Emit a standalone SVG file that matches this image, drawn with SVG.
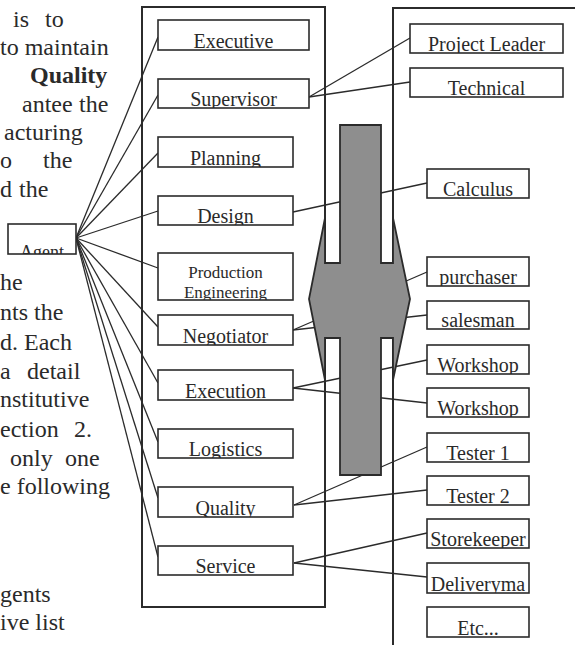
<svg xmlns="http://www.w3.org/2000/svg" width="575" height="645" viewBox="0 0 575 645">
  <style>
    .frame { fill: none; stroke: #2b2b2b; stroke-width: 2; }
    .box { fill: #fff; stroke: #2b2b2b; stroke-width: 1.6; }
    .lbl { font-family: "Liberation Serif", "Times New Roman", serif; font-size: 20px; fill: #2a2a2a; text-anchor: middle; }
    .small { font-size: 17px; }
    .body { font-family: "Liberation Serif", "Times New Roman", serif; font-size: 24px; fill: #2a2a2a; }
    .link { fill: none; stroke: #2b2b2b; stroke-width: 1.3; }
    .shaft { fill: #8e8e8e; stroke: #2b2b2b; stroke-width: 1.8; stroke-linejoin: miter; }
  </style>
  <rect width="575" height="645" fill="#fff"/>

  <!-- running text beside the figure -->
  <g id="body-text" class="body">
    <text y="27"><tspan x="13">is</tspan><tspan x="45">to</tspan></text>
    <text x="0" y="55">to maintain</text>
    <text x="30" y="83" font-weight="bold">Quality</text>
    <text y="112"><tspan x="22">antee</tspan><tspan x="79">the</tspan></text>
    <text x="4" y="140">acturing</text>
    <text y="168"><tspan x="0">o</tspan><tspan x="43">the</tspan></text>
    <text y="197"><tspan x="0">d</tspan><tspan x="19">the</tspan></text>
    <text x="0" y="290">he</text>
    <text x="0" y="320">nts the</text>
    <text x="0" y="350">d. Each</text>
    <text y="379"><tspan x="0">a</tspan><tspan x="27">detail</tspan></text>
    <text x="0" y="407">nstitutive</text>
    <text y="437"><tspan x="0">ection</tspan><tspan x="74">2.</tspan></text>
    <text y="466"><tspan x="10">only</tspan><tspan x="65">one</tspan></text>
    <text x="0" y="494">e following</text>
    <text x="0" y="602">gents</text>
    <text x="0" y="630">ive list</text>
  </g>

  <!-- enclosing frames -->
  <g id="frames">
    <rect class="frame" x="142" y="7" width="183" height="600"/>
    <path class="frame" d="M576,8 H393 V646"/>
  </g>

  <!-- connectors -->
  <g id="connectors" class="link">
    <path d="M76,238 L158,37"/>
    <path d="M76,238 L158,95"/>
    <path d="M76,238 L158,153"/>
    <path d="M76,238 L158,211"/>
    <path d="M76,238 L158,268"/>
    <path d="M76,238 L158,327"/>
    <path d="M76,238 L158,383"/>
    <path d="M76,238 L158,442"/>
    <path d="M76,238 L158,498"/>
    <path d="M76,238 L158,557"/>
    <path d="M309,97 L410,38"/>
    <path d="M309,97 L410,82"/>
    <path d="M293,212 L427,183"/>
    <path d="M293,330 L427,272"/>
    <path d="M293,330 L427,315"/>
    <path d="M293,388 L427,360"/>
    <path d="M293,388 L427,403"/>
    <path d="M294,505 L427,447"/>
    <path d="M294,505 L427,490"/>
    <path d="M294,563 L427,533"/>
    <path d="M294,563 L427,577"/>
  </g>

  <!-- grey bar with double-headed arrow across the two frames -->
  <g id="exchange-arrow">
    <path class="shaft" d="M340,125 H381 V263 H393 V218 L410,299 L393,380 V338 H381 V475 H340 V338 H325 V380 L309,299 L325,218 V263 H340 Z"/>
  </g>

  <!-- agent -->
  <g id="agent">
    <rect class="box" x="8" y="224" width="68" height="30"/>
    <svg x="8" y="224" width="68" height="30"><text class="lbl" x="34" y="33.5" style="font-size:18px">Agent</text></svg>
  </g>

  <!-- roles inside the left frame -->
  <g id="executive">
    <rect class="box" x="158" y="20" width="151" height="30"/>
    <svg x="158" y="20" width="151" height="30"><text class="lbl" x="75.5" y="27.5">Executive</text></svg>
  </g>
  <g id="supervisor">
    <rect class="box" x="158" y="79" width="151" height="29"/>
    <svg x="158" y="79" width="151" height="29"><text class="lbl" x="75.5" y="26.5">Supervisor</text></svg>
  </g>
  <g id="planning">
    <rect class="box" x="158" y="137" width="135" height="30"/>
    <svg x="158" y="137" width="135" height="30"><text class="lbl" x="67.5" y="27.5">Planning</text></svg>
  </g>
  <g id="design">
    <rect class="box" x="158" y="196" width="135" height="29"/>
    <svg x="158" y="196" width="135" height="29"><text class="lbl" x="67.5" y="26.5">Design</text></svg>
  </g>
  <g id="production-engineering">
    <rect class="box" x="158" y="253" width="135" height="47"/>
    <svg x="158" y="253" width="135" height="47">
      <text class="lbl small" x="67.5" y="25">Production</text>
      <text class="lbl small" x="67.5" y="44.5">Engineering</text>
    </svg>
  </g>
  <g id="negotiator">
    <rect class="box" x="158" y="315" width="135" height="30"/>
    <svg x="158" y="315" width="135" height="30"><text class="lbl" x="67.5" y="27.5">Negotiator</text></svg>
  </g>
  <g id="execution">
    <rect class="box" x="158" y="370" width="135" height="30"/>
    <svg x="158" y="370" width="135" height="30"><text class="lbl" x="67.5" y="27.5">Execution</text></svg>
  </g>
  <g id="logistics">
    <rect class="box" x="158" y="429" width="135" height="29"/>
    <svg x="158" y="429" width="135" height="29"><text class="lbl" x="67.5" y="26.5">Logistics</text></svg>
  </g>
  <g id="quality">
    <rect class="box" x="158" y="487" width="135" height="30"/>
    <svg x="158" y="487" width="135" height="30"><text class="lbl" x="67.5" y="27.5">Quality</text></svg>
  </g>
  <g id="service">
    <rect class="box" x="158" y="546" width="135" height="29"/>
    <svg x="158" y="546" width="135" height="29"><text class="lbl" x="67.5" y="26.5">Service</text></svg>
  </g>

  <!-- actors inside the right frame -->
  <g id="project-leader">
    <rect class="box" x="410" y="24" width="153" height="29"/>
    <svg x="410" y="24" width="153" height="29"><text class="lbl" x="76.5" y="26.5">Project Leader</text></svg>
  </g>
  <g id="technical">
    <rect class="box" x="410" y="68" width="153" height="29"/>
    <svg x="410" y="68" width="153" height="29"><text class="lbl" x="76.5" y="26.5">Technical</text></svg>
  </g>
  <g id="calculus">
    <rect class="box" x="427" y="169" width="102" height="29"/>
    <svg x="427" y="169" width="102" height="29"><text class="lbl" x="51" y="26.5">Calculus</text></svg>
  </g>
  <g id="purchaser">
    <rect class="box" x="427" y="257" width="102" height="29"/>
    <svg x="427" y="257" width="102" height="29"><text class="lbl" x="51" y="26.5">purchaser</text></svg>
  </g>
  <g id="salesman">
    <rect class="box" x="427" y="301" width="102" height="28"/>
    <svg x="427" y="301" width="102" height="28"><text class="lbl" x="51" y="25.5">salesman</text></svg>
  </g>
  <g id="workshop-1">
    <rect class="box" x="427" y="345" width="102" height="29"/>
    <svg x="427" y="345" width="102" height="29"><text class="lbl" x="51" y="26.5">Workshop</text></svg>
  </g>
  <g id="workshop-2">
    <rect class="box" x="427" y="388" width="102" height="29"/>
    <svg x="427" y="388" width="102" height="29"><text class="lbl" x="51" y="26.5">Workshop</text></svg>
  </g>
  <g id="tester-1">
    <rect class="box" x="427" y="433" width="102" height="29"/>
    <svg x="427" y="433" width="102" height="29"><text class="lbl" x="51" y="26.5">Tester 1</text></svg>
  </g>
  <g id="tester-2">
    <rect class="box" x="427" y="476" width="102" height="29"/>
    <svg x="427" y="476" width="102" height="29"><text class="lbl" x="51" y="26.5">Tester 2</text></svg>
  </g>
  <g id="storekeeper">
    <rect class="box" x="427" y="519" width="102" height="29"/>
    <svg x="427" y="519" width="102" height="29"><text class="lbl" x="51" y="26.5">Storekeeper</text></svg>
  </g>
  <g id="deliveryman">
    <rect class="box" x="427" y="563" width="102" height="30"/>
    <svg x="427" y="563" width="102" height="30"><text class="lbl" x="51" y="27.5">Deliveryma</text></svg>
  </g>
  <g id="etc">
    <rect class="box" x="427" y="607" width="102" height="30"/>
    <svg x="427" y="607" width="102" height="30"><text class="lbl" x="51" y="27.5">Etc...</text></svg>
  </g>
</svg>
